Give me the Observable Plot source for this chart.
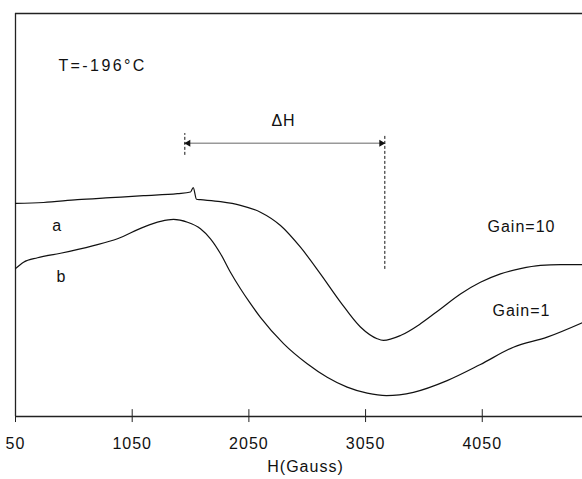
<!DOCTYPE html>
<html>
<head>
<meta charset="utf-8">
<script src="https://cdn.jsdelivr.net/npm/d3@7"></script>
<script src="https://cdn.jsdelivr.net/npm/@observablehq/plot@0.6"></script>
<style>
  html, body { margin: 0; padding: 0; background: #fff; }
</style>
</head>
<body>
<div id="chart"></div>
<script>
// Curve a (Gain=10): field H (Gauss) and signal (arbitrary units)
const hA   = [50, 290, 581, 864, 1147, 1438, 1550, 1573, 1601, 1635, 1807, 1978, 2149, 2321, 2492, 2663, 2835, 3006, 3149, 3203, 3349, 3520, 3692, 3863, 4034, 4206, 4377, 4549, 4720, 4909];
const sigA = [52.9, 53.1, 53.8, 54.3, 54.8, 55.3, 55.7, 56.8, 53.9, 53.8, 53.3, 52.4, 50.7, 47.4, 42.0, 35.4, 28.4, 22.2, 19.3, 18.9, 20.1, 23.0, 26.7, 30.4, 33.3, 35.4, 36.7, 37.5, 37.7, 37.7];
// Curve b (Gain=1)
const hB   = [50, 119, 239, 436, 718, 924, 1147, 1293, 1404, 1524, 1635, 1721, 1807, 1892, 1978, 2064, 2149, 2347, 2550, 2721, 2892, 3064, 3229, 3460, 3749, 4034, 4317, 4606, 4909];
const sigB = [36.7, 38.3, 39.4, 40.5, 42.4, 44.1, 47.0, 48.4, 48.9, 48.2, 46.6, 44.1, 40.4, 35.8, 31.7, 28.0, 24.6, 18.1, 13.1, 9.75, 7.3, 5.8, 5.2, 6.0, 8.9, 12.9, 17.2, 19.7, 23.3];

const xTicks = [50, 1050, 2050, 3050, 4050];
const xLabel = "H(Gauss)";
const tempLabel = "T=-196°C";
const deltaLabel = "ΔH";
const curveLabels = ["a", "b"];
const gainLabels = ["Gain=10", "Gain=1"];
const deltaFrom = 1501, deltaTo = 3215;

const dataA = hA.map((h, i) => ({h, s: sigA[i]}));
const dataB = hB.map((h, i) => ({h, s: sigB[i]}));

const textStyle = {fontFamily: "'Liberation Sans', Arial, sans-serif", fontSize: 16, fill: "#111"};

const plot = Plot.plot({
  width: 582,
  height: 479,
  marginLeft: 15,
  marginRight: 0,
  marginTop: 13,
  marginBottom: 63,
  style: {fontFamily: "'Liberation Sans', Arial, sans-serif", fontSize: "16px", letterSpacing: "1px", background: "#fff", color: "#111"},
  x: {domain: [50, 4909], label: null},
  y: {domain: [0, 100], axis: null, label: null},
  marks: [
    // frame lines
    Plot.ruleX([50], {y1: 0, y2: 100, stroke: "#222", strokeWidth: 1.3}),
    Plot.ruleY([100], {x1: 50, x2: 4909, stroke: "#222", strokeWidth: 1.3}),
    Plot.ruleY([0], {x1: 50, x2: 4909, stroke: "#222", strokeWidth: 1.3}),
    // crossing ticks
    Plot.ruleX(xTicks, {y1: -1.5, y2: 1.7, stroke: "#222", strokeWidth: 1}),
    Plot.axisX({ticks: xTicks, tickSize: 0, tickPadding: 21, tickFormat: d => String(d), fontSize: 16}),
    Plot.text([xLabel], {x: 2535, y: -12.4, text: d => d, ...textStyle}),
    // curves
    Plot.line(dataA, {x: "h", y: "s", stroke: "#111", strokeWidth: 1.2, curve: "monotone-x"}),
    Plot.line(dataB, {x: "h", y: "s", stroke: "#111", strokeWidth: 1.2, curve: "monotone-x"}),
    // ΔH annotation
    Plot.ruleY([67.8], {x1: deltaFrom, x2: deltaTo, stroke: "#999", strokeWidth: 1.6}),
    Plot.ruleX([deltaFrom], {y1: 64.8, y2: 70.2, stroke: "#111", strokeWidth: 1, strokeDasharray: "3,2"}),
    Plot.ruleX([deltaTo], {y1: 36.5, y2: 69.7, stroke: "#111", strokeWidth: 1, strokeDasharray: "3,2"}),
    Plot.dot([deltaFrom + 30], {x: d => d, y: 67.8, symbol: "triangle", r: 2.6, fill: "#111", stroke: null, rotate: -90}),
    Plot.dot([deltaTo - 30], {x: d => d, y: 67.8, symbol: "triangle", r: 2.6, fill: "#111", stroke: null, rotate: 90}),
    Plot.text([deltaLabel], {x: 2347, y: 73.3, text: d => d, ...textStyle}),
    // labels
    Plot.text([tempLabel], {x: 418, y: 87.1, text: d => d, textAnchor: "start", ...textStyle}),
    Plot.text([curveLabels[0]], {x: 407, y: 47.4, text: d => d, ...textStyle}),
    Plot.text([curveLabels[1]], {x: 444, y: 34.7, text: d => d, ...textStyle}),
    Plot.text([gainLabels[0]], {x: 4386, y: 47.1, text: d => d, ...textStyle}),
    Plot.text([gainLabels[1]], {x: 4386, y: 26.2, text: d => d, ...textStyle})
  ]
});
d3.select(plot).selectAll("text").filter(function () { return this.textContent === tempLabel; }).style("letter-spacing", "2.4px");
document.getElementById("chart").appendChild(plot);
</script>
</body>
</html>
